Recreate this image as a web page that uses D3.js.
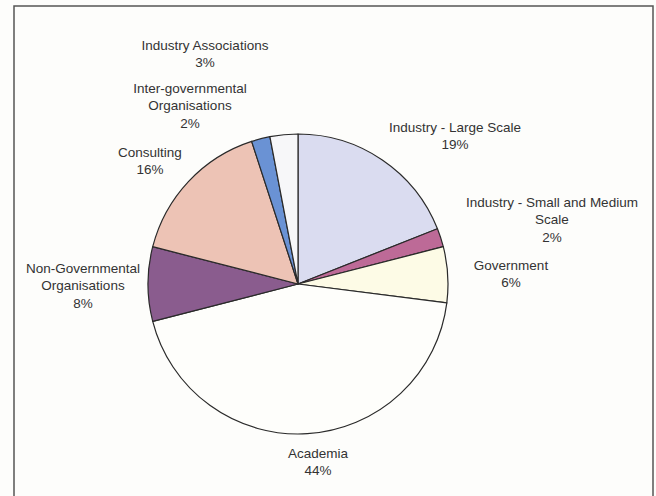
<!DOCTYPE html>
<html>
<head>
<meta charset="utf-8">
<script src="https://cdn.jsdelivr.net/npm/d3@7"></script>
<style>
  html, body { margin: 0; padding: 0; background: #fdfdfb; }
  svg { display: block; }
  text { font-family: "Liberation Sans", Arial, sans-serif; font-size: 13.5px; fill: #333; }
</style>
</head>
<body>
<svg id="chart" width="656" height="496"></svg>
<script>
// Share of respondents by sector (clockwise from 12 o'clock)
const categories = [
  "Industry - Large Scale",
  "Industry - Small and Medium Scale",
  "Government",
  "Academia",
  "Non-Governmental Organisations",
  "Consulting",
  "Inter-governmental Organisations",
  "Industry Associations"
];
const shares = [19, 2, 6, 44, 8, 16, 2, 3];
const labelLines = [
  ["Industry - Large Scale"],
  ["Industry - Small and Medium", "Scale"],
  ["Government"],
  ["Academia"],
  ["Non-Governmental", "Organisations"],
  ["Consulting"],
  ["Inter-governmental", "Organisations"],
  ["Industry Associations"]
];
const sliceColors = [
  "#dadcf0", "#bd6a97", "#fdfbe6", "#fefefb",
  "#8a5c8e", "#edc3b5", "#6a92d4", "#f7f7f9"
];

// Layout: pie centre/radius and the top-line centre of each label block
const cx = 298, cy = 284, radius = 150;
const labelAnchor = [
  [455, 127], [552, 202], [511, 265], [318, 453],
  [83, 268], [150, 152], [190, 88], [205, 45]
];
const lineGap = 17.5;

const svg = d3.select("#chart");

// Frame around the chart area
svg.append("rect")
  .attr("x", 14).attr("y", 6)
  .attr("width", 639).attr("height", 500)
  .attr("fill", "none")
  .attr("stroke", "#555")
  .attr("stroke-width", 1.5);

const pie = d3.pie().sort(null).value(d => d.value);
const arcs = pie(categories.map((c, i) => ({ name: c, value: shares[i], idx: i })));
const arc = d3.arc().innerRadius(0).outerRadius(radius);

const g = svg.append("g").attr("transform", `translate(${cx},${cy})`);
g.selectAll("path.slice")
  .data(arcs)
  .join("path")
  .attr("class", "slice")
  .attr("d", arc)
  .attr("fill", d => sliceColors[d.data.idx])
  .attr("stroke", "#2a2a2a")
  .attr("stroke-width", 1.2)
  .attr("stroke-linejoin", "round");

// Labels: name lines followed by the percentage
const labels = svg.selectAll("text.lbl")
  .data(arcs)
  .join("text")
  .attr("class", "lbl")
  .attr("text-anchor", "middle");

labels.each(function(d) {
  const i = d.data.idx;
  const [lx, ly] = labelAnchor[i];
  const lines = labelLines[i].concat([d.data.value + "%"]);
  const t = d3.select(this);
  lines.forEach((s, k) => {
    t.append("tspan")
      .attr("x", lx)
      .attr("y", ly + 4.5 + k * lineGap)
      .text(s);
  });
});
</script>
</body>
</html>
